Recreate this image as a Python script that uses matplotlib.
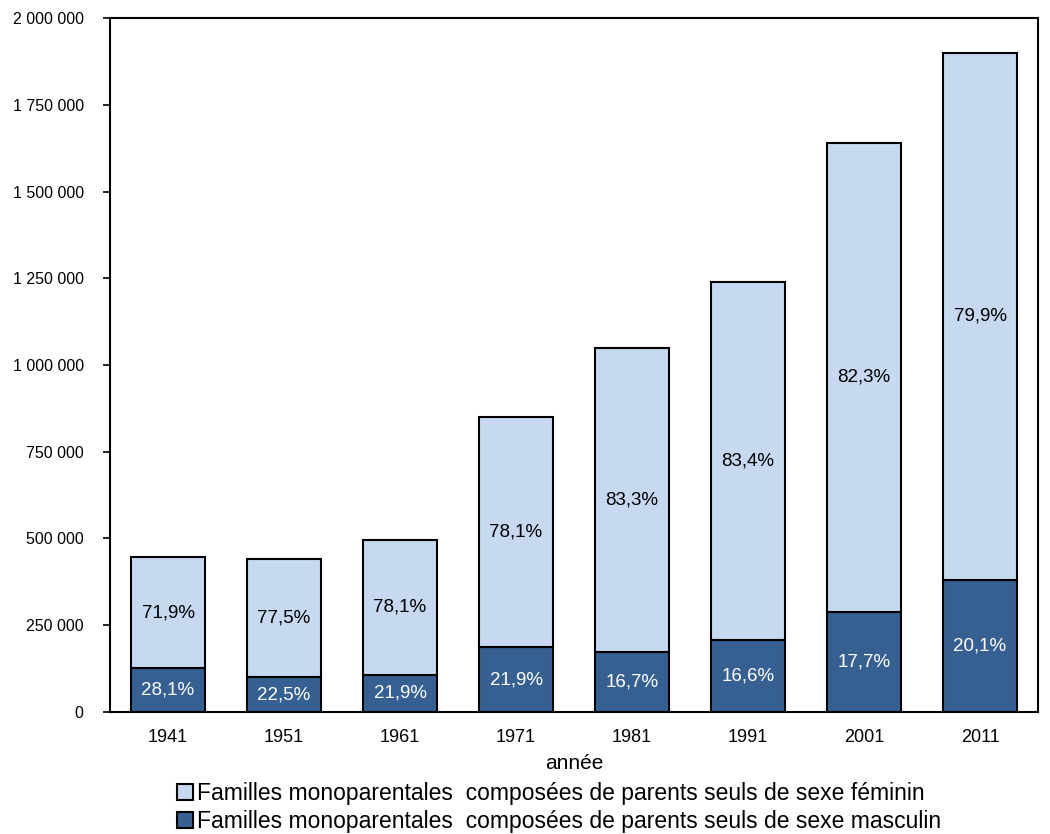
import numpy as np
import matplotlib.pyplot as plt
from matplotlib.ticker import FuncFormatter

plt.rcParams['font.family'] = ['Liberation Sans', 'DejaVu Sans']

annees = ['1941', '1951', '1961', '1971', '1981', '1991', '2001', '2011']
masculin = [126000, 100000, 107000, 187000, 174000, 207000, 289000, 381000]
total = [447000, 441000, 496000, 850000, 1049000, 1240000, 1640000, 1900000]
feminin = [t - m for t, m in zip(total, masculin)]
pct_masc = ['28,1%', '22,5%', '21,9%', '21,9%', '16,7%', '16,6%', '17,7%', '20,1%']
pct_fem = ['71,9%', '77,5%', '78,1%', '78,1%', '83,3%', '83,4%', '82,3%', '79,9%']

clair = '#C6D9F0'
fonce = '#366092'

fig = plt.figure(figsize=(10.5, 8.34), dpi=100)
ax = fig.add_axes([0.1048, 0.1463, 0.8838, 0.8321])

x = np.arange(len(annees))
b1 = ax.bar(x, masculin, width=0.64, color=fonce, edgecolor='black', linewidth=1.5,
            label='Familles monoparentales  composées de parents seuls de sexe masculin')
b2 = ax.bar(x, feminin, width=0.64, bottom=masculin, color=clair, edgecolor='black', linewidth=1.5,
            label='Familles monoparentales  composées de parents seuls de sexe féminin')

for i in range(len(annees)):
    ax.text(x[i], masculin[i] / 2, pct_masc[i], ha='center', va='center', color='white', fontsize=13.5)
    ax.text(x[i], masculin[i] + feminin[i] / 2, pct_fem[i], ha='center', va='center', color='black', fontsize=13.5)

ax.set_xlim(-0.5, len(annees) - 0.5)
ax.set_ylim(0, 2000000)
ax.set_yticks(np.arange(0, 2000001, 250000))
ax.yaxis.set_major_formatter(FuncFormatter(lambda v, p: '{:,.0f}'.format(v).replace(',', ' ')))
ax.set_xticks(x)
ax.set_xticklabels(annees)
ax.tick_params(axis='x', length=0, pad=12, labelsize=13)
ax.tick_params(axis='y', length=5, width=1.2, direction='out', labelsize=11.5, pad=14)
for s in ax.spines.values():
    s.set_linewidth(1.5)
ax.set_xlabel('année', fontsize=15, labelpad=6)

handles, labels = ax.get_legend_handles_labels()
ax.legend(handles[::-1], labels[::-1], loc='upper left', bbox_to_anchor=(0.062, -0.088),
          frameon=False, fontsize=16.5, handlelength=0.7, handleheight=0.7,
          handletextpad=0.2, labelspacing=0.22, borderaxespad=0)

plt.savefig('out.png', dpi=100)
